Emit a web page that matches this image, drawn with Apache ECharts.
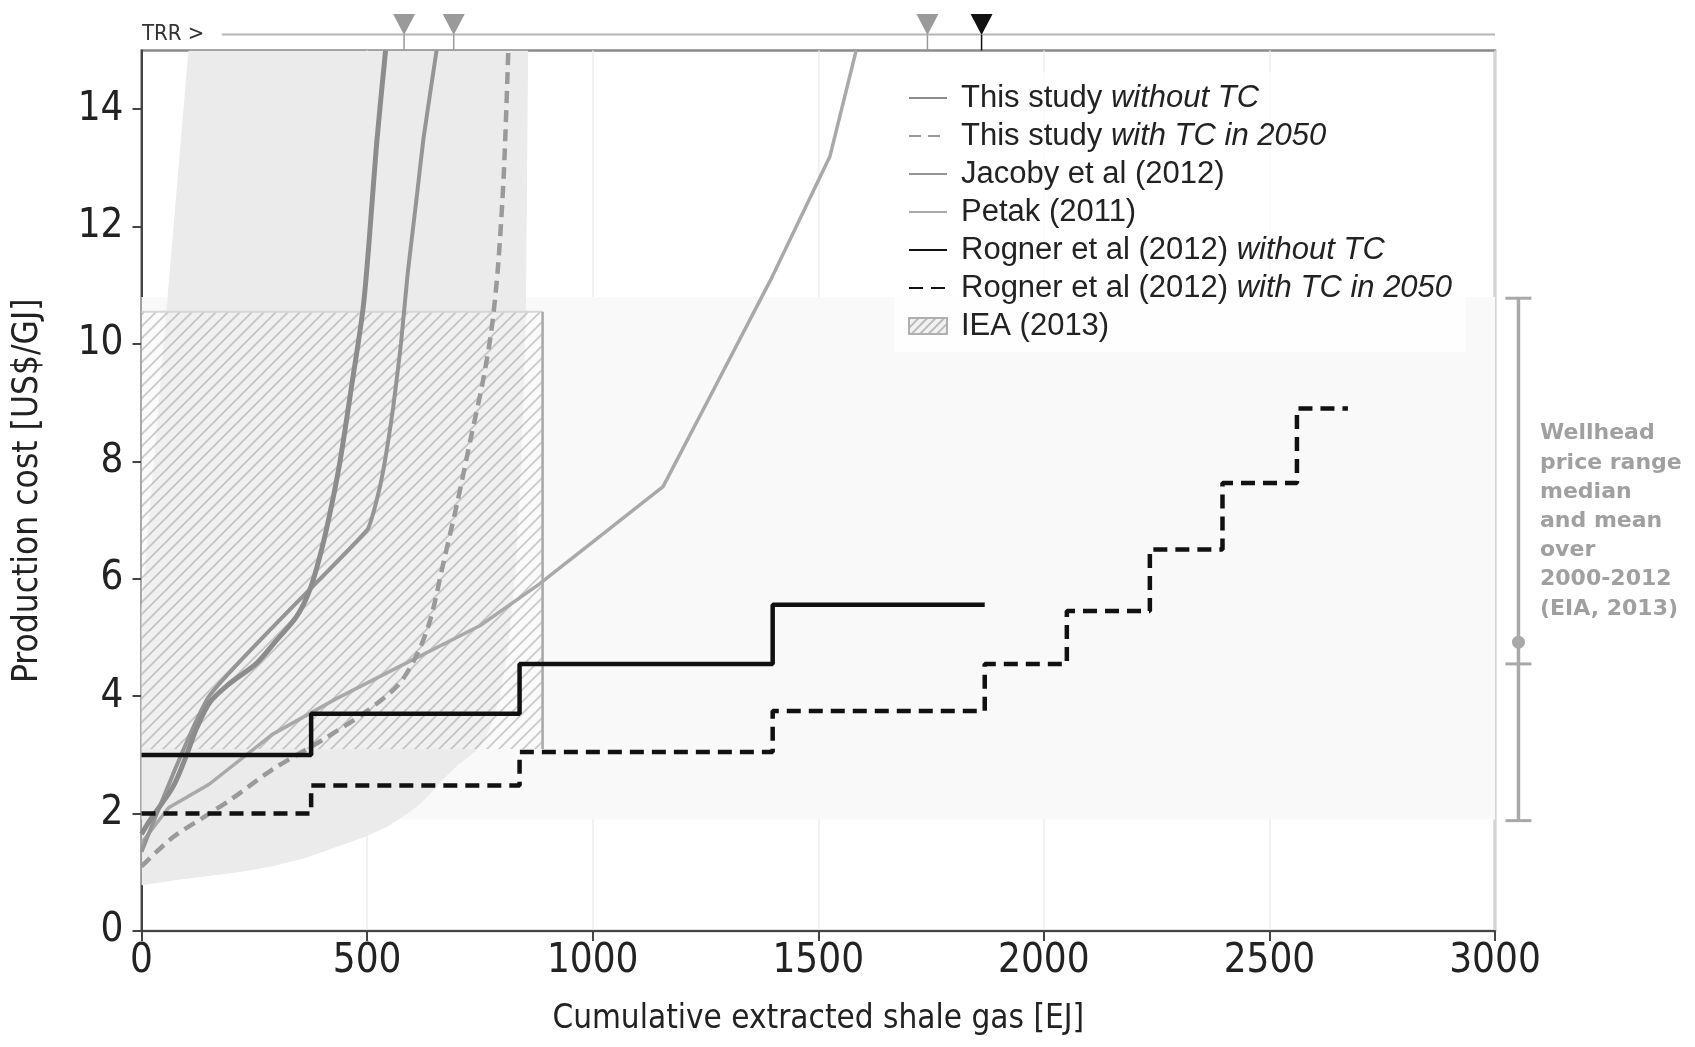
<!DOCTYPE html>
<html><head><meta charset="utf-8">
<script src="https://cdn.jsdelivr.net/npm/echarts@6/dist/echarts.min.js"></script>
<style>html,body{margin:0;padding:0;background:#fff}#c{width:1695px;height:1047px}</style>
</head><body><div id="c"></div>
<script>
// ---------- data ----------
const xTickValues = [0, 500, 1000, 1500, 2000, 2500, 3000];
const yTickValues = [0, 2, 4, 6, 8, 10, 12, 14];
const thisStudyNoTC = [[0,1.65],[20,1.9],[70,2.46],[100,3.0],[122,3.45],[152,3.9],[196,4.22],[255,4.56],[300,4.96],[344,5.36],[373,5.81],[399,6.49],[420,7.2],[440,8.0],[466,9.3],[491,10.6],[505,11.8],[521,13.4],[541,15]];
const thisStudyTC = [[0,1.1],[70,1.6],[140,1.95],[200,2.25],[290,2.75],[400,3.25],[500,3.75],[570,4.2],[610,4.7],[640,5.3],[670,6.3],[700,7.3],[730,8.4],[755,9.3],[775,10.2],[790,11.3],[803,12.9],[813,15]];
const jacoby = [[0,1.35],[150,4.0],[500,6.83],[520,7.3],[536,7.85],[558,8.93],[575,10],[590,11.2],[610,12.5],[625,13.5],[654,15]];
const petak = [[0,1.5],[60,2.1],[150,2.5],[290,3.35],[430,3.95],[570,4.5],[750,5.2],[880,5.9],[1156,7.57],[1270,9.25],[1395,11.1],[1526,13.2],[1584,15]];
const rognerNoTCx = [0, 376, 838, 1399, 1869];
const rognerNoTCy = [3.0, 3.7, 4.55, 5.56];
const rognerTCx = [0, 376, 838, 1399, 1869, 2051, 2235, 2396, 2561, 2674];
const rognerTCy = [2.0, 2.48, 3.05, 3.75, 4.55, 5.45, 6.5, 7.63, 8.9];
const envelope = [[0,0.78],[70,0.86],[140,0.93],[215,1.0],[288,1.1],[365,1.25],[435,1.44],[495,1.6],[546,1.78],[590,2.0],[620,2.18],[645,2.38],[670,2.6],[700,2.82],[730,3.0],[751,3.14],[775,3.5],[795,4.0],[812,4.8],[828,6],[842,8],[852,10.5],[857,15],[104,15],[56,10.64],[0,5.5]];
const ieaX = [0, 889];
const ieaY = [3.1, 10.55];
const wellheadX = 3052;
const wellheadRange = [1.88, 10.78];
const wellheadMedian = 4.55;
const wellheadMean = 4.92;
const wellheadBand = [1.9, 10.8];
const trrX = [582, 692, 1742, 1862];
const trrDark = [false, false, false, true];
const wellheadText = ['Wellhead','price range','median','and mean','over','2000-2012','(EIA, 2013)'];

// ---------- helpers ----------
function steps(xs, ys) {
  const out = [];
  for (let i = 0; i < ys.length; i++) { out.push([xs[i], ys[i]]); out.push([xs[i+1], ys[i]]); }
  return out;
}
const hatch = document.createElement('canvas');
hatch.width = 12; hatch.height = 12;
(function(){
  const g = hatch.getContext('2d');
  g.strokeStyle = 'rgba(150,150,150,0.5)'; g.lineWidth = 1.6;
  g.beginPath();
  g.moveTo(-1,13); g.lineTo(13,-1);
  g.moveTo(-1,1); g.lineTo(1,-1);
  g.moveTo(11,13); g.lineTo(13,11);
  g.stroke();
})();
const hatchFill = {image: hatch, repeat: 'repeat'};

const CF = "'DejaVu Sans Condensed', 'DejaVu Sans', sans-serif";
const LF = "'Liberation Sans', Arial, sans-serif";

const chart = echarts.init(document.getElementById('c'));
const legendNames = {
  'This study without TC': ['This study ', 'without TC'],
  'This study with TC in 2050': ['This study ', 'with TC in 2050'],
  'Jacoby et al (2012)': ['Jacoby et al (2012)', ''],
  'Petak (2011)': ['Petak (2011)', ''],
  'Rogner et al (2012) without TC': ['Rogner et al (2012) ', 'without TC'],
  'Rogner et al (2012) with TC in 2050': ['Rogner et al (2012) ', 'with TC in 2050'],
  'IEA (2013)': ['IEA (2013)', '']
};

chart.setOption({
  animation: false,
  backgroundColor: '#fff',
  grid: [
    {left: 141.5, right: 200, top: 50.5, bottom: 116, show: true, borderColor: '#8a8a8a', borderWidth: 2.5},
    {left: 141.5, right: 200, top: 10, height: 40.5, show: false}
  ],
  xAxis: [
    {type: 'value', min: 0, max: 3000, interval: 500, gridIndex: 0,
     name: 'Cumulative extracted shale gas [EJ]', nameLocation: 'middle', nameGap: 72,
     nameTextStyle: {fontSize: 33, fontFamily: CF, color: '#222'},
     axisLine: {show: true, lineStyle: {color: '#444', width: 2}},
     axisTick: {show: true, length: 10, lineStyle: {color: '#444', width: 2}, customValues: xTickValues},
     axisLabel: {fontSize: 40, fontFamily: CF, color: '#222', margin: 11, customValues: xTickValues, formatter: v => String(v)},
     splitLine: {show: true, lineStyle: {color: '#ececec', width: 1.5}}},
    {type: 'value', min: 0, max: 3000, gridIndex: 1, show: false}
  ],
  yAxis: [
    {type: 'value', min: 0, max: 15, interval: 2, gridIndex: 0,
     name: 'Production cost [US$/GJ]', nameLocation: 'middle', nameGap: 96, nameRotate: 90,
     nameTextStyle: {fontSize: 35, fontFamily: CF, color: '#222'},
     axisLine: {show: true, lineStyle: {color: '#444', width: 2}},
     axisTick: {show: true, length: 9, lineStyle: {color: '#444', width: 2}, customValues: yTickValues},
     axisLabel: {fontSize: 40, fontFamily: CF, color: '#222', margin: 18, customValues: yTickValues, formatter: v => String(v)},
     splitLine: {show: false}},
    {type: 'value', min: 0, max: 1, gridIndex: 1, show: false}
  ],
  legend: {
    orient: 'vertical', left: 894, top: 72, padding: [10, 14],
    backgroundColor: 'rgba(255,255,255,0.8)',
    itemWidth: 38, itemHeight: 16, itemGap: 6,
    itemStyle: {opacity: 0},
    textStyle: {fontSize: 31, lineHeight: 32, fontFamily: LF, color: '#222', padding: [0, 0, 0, 9],
      rich: {n: {fontSize: 31, lineHeight: 32, fontFamily: LF, color: '#222'},
             i: {fontSize: 31, lineHeight: 32, fontFamily: LF, color: '#222', fontStyle: 'italic'}}},
    formatter: function (name) {
      const p = legendNames[name];
      return '{n|' + p[0] + '}' + (p[1] ? '{i|' + p[1] + '}' : '');
    },
    data: [
      'This study without TC', 'This study with TC in 2050', 'Jacoby et al (2012)', 'Petak (2011)',
      'Rogner et al (2012) without TC', 'Rogner et al (2012) with TC in 2050',
      {name: 'IEA (2013)', icon: 'rect', itemStyle: {opacity: 1, color: '#f2f2f2', borderColor: '#aaa', borderWidth: 1.5, decal: {symbol: 'rect', rotation: -Math.PI/4, dashArrayX: [1, 0], dashArrayY: [2, 4], color: '#bbb'}}}
    ]
  },
  graphic: [
    {type: 'text', left: 142, top: 23, style: {text: 'TRR >', fontSize: 22, fontFamily: CF, fill: '#333'}},
    {type: 'text', left: 1540, top: 419, style: {text: wellheadText.join('\n'), fontSize: 22, fontWeight: 'bold', lineHeight: 29.2, fontFamily: "'DejaVu Sans', Verdana, sans-serif", fill: '#a0a0a0'}}
  ],
  series: [
    {name: 'band', type: 'line', data: [], silent: true,
     markArea: {silent: true, itemStyle: {color: '#f9f9f9'}, data: [[{yAxis: wellheadBand[0], xAxis: 0}, {yAxis: wellheadBand[1], xAxis: 3000}]]}, z: 0},
    {name: 'envelope', type: 'custom', silent: true, z: 1, clip: true,
     data: [[0, 0]],
     renderItem: function (params, api) {
       return {type: 'polygon', shape: {points: envelope.map(p => api.coord(p))}, style: {fill: '#ebebeb'}};
     }},
    {name: 'IEA (2013)', type: 'custom', z: 2, clip: true,
     itemStyle: {color: '#f2f2f2'},
     data: [[0, 0]],
     renderItem: function (params, api) {
       const a = api.coord([ieaX[0], ieaY[1]]), b = api.coord([ieaX[1], ieaY[1]]);
       const c = api.coord([ieaX[1], ieaY[0]]), d = api.coord([ieaX[0], ieaY[0]]);
       return {type: 'group', children: [
         {type: 'polygon', shape: {points: [a, b, c, d]}, style: {fill: 'rgba(255,255,255,0.25)'}},
         {type: 'polygon', shape: {points: [a, b, c, d]}, style: {fill: hatchFill}},
         {type: 'line', shape: {x1: a[0], y1: a[1], x2: b[0], y2: b[1]}, style: {stroke: '#d6d6d6', lineWidth: 2}},
         {type: 'line', shape: {x1: b[0], y1: b[1], x2: c[0], y2: c[1]}, style: {stroke: '#a8a8a8', lineWidth: 2.5}}
       ]};
     }},
    {name: 'Petak (2011)', type: 'line', data: petak, symbol: 'none', z: 5,
     lineStyle: {color: '#a9a9a9', width: 3.5}, itemStyle: {color: '#a9a9a9'}},
    {name: 'Jacoby et al (2012)', type: 'line', data: jacoby, symbol: 'none', z: 5, smooth: 0.15,
     lineStyle: {color: '#959595', width: 4}, itemStyle: {color: '#959595'}},
    {name: 'This study with TC in 2050', type: 'line', data: thisStudyTC, symbol: 'none', z: 5, smooth: 0.3,
     lineStyle: {color: '#9a9a9a', width: 4.5, type: [12, 7]}, itemStyle: {color: '#9a9a9a'}},
    {name: 'This study without TC', type: 'line', data: thisStudyNoTC, symbol: 'none', z: 5, smooth: 0.3,
     lineStyle: {color: '#8c8c8c', width: 5}, itemStyle: {color: '#8c8c8c'}},
    {name: 'Rogner et al (2012) with TC in 2050', type: 'line', data: steps(rognerTCx, rognerTCy), symbol: 'none', z: 6,
     lineStyle: {color: '#111', width: 4.5, type: [14, 8]}, itemStyle: {color: '#111'}},
    {name: 'Rogner et al (2012) without TC', type: 'line', data: steps(rognerNoTCx, rognerNoTCy), symbol: 'none', z: 6,
     lineStyle: {color: '#111', width: 4.5}, itemStyle: {color: '#111'}},
    {name: 'wellhead', type: 'custom', silent: true, clip: false, z: 6,
     data: [[wellheadX, wellheadMean]],
     renderItem: function (params, api) {
       const top = api.coord([wellheadX, wellheadRange[1]]);
       const bot = api.coord([wellheadX, wellheadRange[0]]);
       const med = api.coord([wellheadX, wellheadMedian]);
       const mean = api.coord([wellheadX, wellheadMean]);
       const col = '#a8a8a8', hw = 13;
       return {type: 'group', children: [
         {type: 'line', shape: {x1: top[0], y1: top[1], x2: bot[0], y2: bot[1]}, style: {stroke: col, lineWidth: 3.5}},
         {type: 'line', shape: {x1: top[0]-hw, y1: top[1], x2: top[0]+hw, y2: top[1]}, style: {stroke: col, lineWidth: 3}},
         {type: 'line', shape: {x1: bot[0]-hw, y1: bot[1], x2: bot[0]+hw, y2: bot[1]}, style: {stroke: col, lineWidth: 3}},
         {type: 'line', shape: {x1: med[0]-hw, y1: med[1], x2: med[0]+hw, y2: med[1]}, style: {stroke: col, lineWidth: 3}},
         {type: 'circle', shape: {cx: mean[0], cy: mean[1], r: 6.5}, style: {fill: col}}
       ]};
     }},
    {name: 'trrLine', type: 'line', xAxisIndex: 1, yAxisIndex: 1, data: [[178, 0.393], [3000, 0.393]], symbol: 'none', silent: true,
     lineStyle: {color: '#b5b5b5', width: 2}},
    {name: 'trr', type: 'custom', xAxisIndex: 1, yAxisIndex: 1, silent: true, clip: false, z: 7,
     data: trrX.map((x, i) => [x, 0.383, i]),
     renderItem: function (params, api) {
       const x = api.value(0), i = api.value(2);
       const tip = api.coord([x, 0.383]);
       const base = api.coord([x, 0]);
       const col = trrDark[i] ? '#111' : '#9a9a9a';
       return {type: 'group', children: [
         {type: 'line', shape: {x1: tip[0], y1: tip[1], x2: base[0], y2: base[1]}, style: {stroke: col, lineWidth: 1.5}},
         {type: 'polygon', shape: {points: [[tip[0]-11, tip[1]-21], [tip[0]+11, tip[1]-21], [tip[0], tip[1]]]}, style: {fill: col}}
       ]};
     }}
  ]
});
</script></body></html>
